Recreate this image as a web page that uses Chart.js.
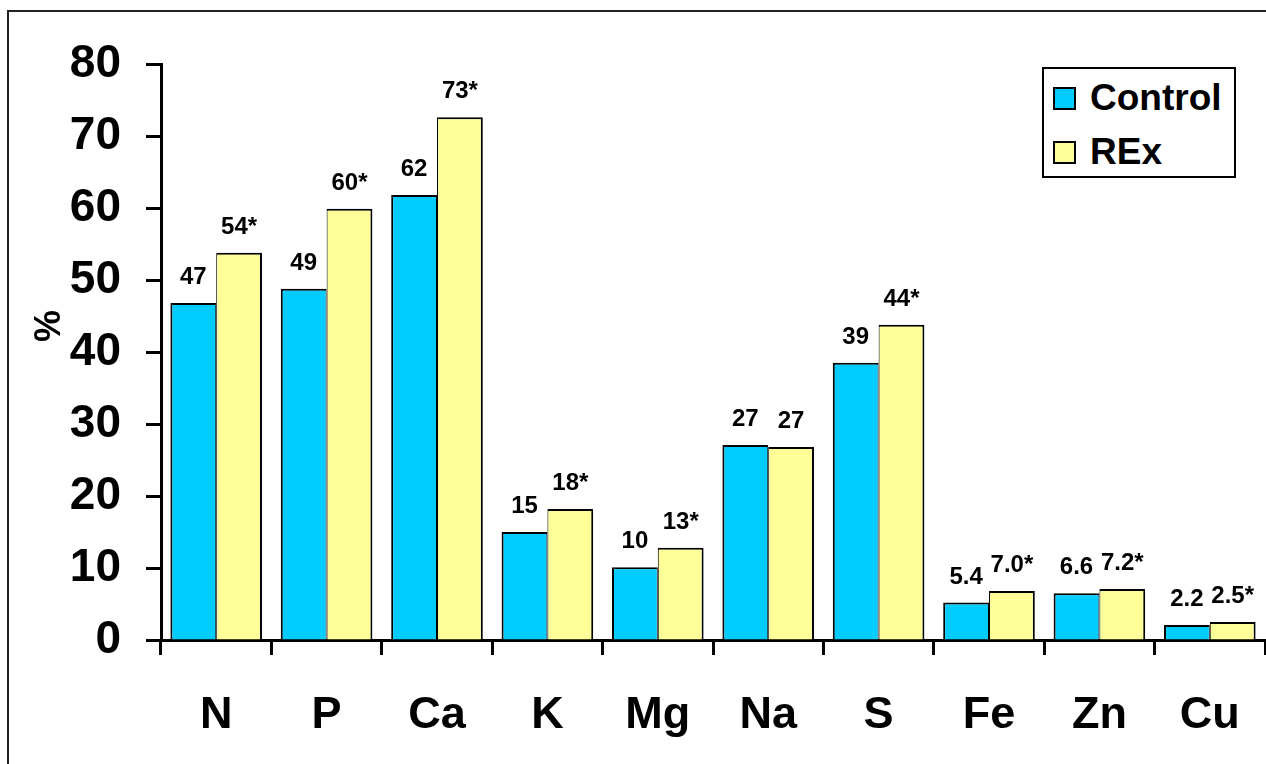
<!DOCTYPE html>
<html>
<head>
<meta charset="utf-8">
<script src="https://cdn.jsdelivr.net/npm/chart.js@4/dist/chart.umd.min.js"></script>
<style>
  html, body { margin: 0; padding: 0; background: #fff; overflow: hidden; }
  #frame {
    position: absolute; left: 7px; top: 10px; width: 1400px; height: 900px;
    border: 2px solid #222; z-index: 0;
  }
  #chart { position: absolute; left: 0; top: 0; z-index: 1; }
  #legend {
    position: absolute; left: 1042px; top: 67px; width: 190px; height: 105px;
    border: 2px solid #000; background: #fff; z-index: 2;
    font: bold 37px "Liberation Sans", Arial, sans-serif; color: #000;
    padding-top: 2px; box-sizing: content-box;
  }
  .legend-row { display: flex; align-items: center; height: 54px; }
  .legend-box {
    width: 19px; height: 19px; border: 2px solid #000;
    margin-left: 9px; margin-right: 14px;
  }
</style>
</head>
<body>
<div id="frame"></div>
<canvas id="chart" width="1266" height="764"></canvas>
<div id="legend"></div>
<script>
const CATEGORIES = ["N", "P", "Ca", "K", "Mg", "Na", "S", "Fe", "Zn", "Cu"];
const CONTROL = [46.8, 48.8, 61.8, 15.0, 10.1, 27.1, 38.5, 5.2, 6.5, 2.1];
const REX = [53.8, 59.9, 72.6, 18.2, 12.8, 26.8, 43.8, 6.8, 7.1, 2.5];
const CONTROL_LABELS = ["47", "49", "62", "15", "10", "27", "39", "5.4", "6.6", "2.2"];
const REX_LABELS = ["54*", "60*", "73*", "18*", "13*", "27", "44*", "7.0*", "7.2*", "2.5*"];
const Y_TICKS = [0, 10, 20, 30, 40, 50, 60, 70, 80];
const Y_TITLE = "%";

const COLORS = {
  black: "#000000",
  cyan: "#00CCFF",
  yellow: "#FFFF99",
};

const FONT = "'Liberation Sans', Arial, sans-serif";
Chart.defaults.font.family = FONT;
Chart.defaults.color = COLORS.black;

// value labels above bars
const barLabelsPlugin = {
  id: "barLabels",
  afterDatasetsDraw: (chart) => {
    const { ctx } = chart;
    const texts = [CONTROL_LABELS, REX_LABELS];
    ctx.save();
    ctx.font = "bold 24px " + FONT;
    ctx.fillStyle = COLORS.black;
    ctx.textAlign = "center";
    ctx.textBaseline = "alphabetic";
    chart.data.datasets.forEach((ds, i) => {
      chart.getDatasetMeta(i).data.forEach((bar, j) => {
        ctx.fillText(texts[i][j], bar.x, bar.y - 19);
      });
    });
    ctx.restore();
  },
};

// y axis title, sits a bit above the middle of the axis
const yTitlePlugin = {
  id: "yTitle",
  afterDraw: (chart) => {
    const { ctx, chartArea } = chart;
    const y = chartArea.top + (chartArea.bottom - chartArea.top) * 0.455;
    ctx.save();
    ctx.translate(50, y);
    ctx.rotate(-Math.PI / 2);
    ctx.font = "bold 36px " + FONT;
    ctx.fillStyle = COLORS.black;
    ctx.textAlign = "center";
    ctx.textBaseline = "middle";
    ctx.fillText(Y_TITLE, 0, 0);
    ctx.restore();
  },
};

const chart = new Chart(document.getElementById("chart"), {
  type: "bar",
  data: {
    labels: CATEGORIES,
    datasets: [
      {
        label: "Control",
        data: CONTROL,
        backgroundColor: COLORS.cyan,
        borderColor: COLORS.black,
        borderWidth: { top: 2, left: 2, right: 1, bottom: 0 },
        borderSkipped: "start",
      },
      {
        label: "REx",
        data: REX,
        backgroundColor: COLORS.yellow,
        borderColor: COLORS.black,
        borderWidth: { top: 2, left: 1, right: 2, bottom: 0 },
        borderSkipped: "start",
      },
    ],
  },
  options: {
    responsive: false,
    animation: false,
    categoryPercentage: 0.83,
    barPercentage: 1,
    layout: { padding: { top: 64, right: 1, bottom: 0, left: 0 } },
    scales: {
      x: {
        offset: true,
        grid: {
          offset: true,
          drawOnChartArea: false,
          drawTicks: true,
          tickLength: 15,
          tickWidth: 3,
          tickColor: COLORS.black,
        },
        border: { display: true, width: 3, color: COLORS.black },
        ticks: {
          padding: 34,
          font: { size: 45, weight: "bold" },
          color: COLORS.black,
          maxRotation: 0,
        },
        afterFit: (scale) => {
          scale.height = 124;
          scale.paddingLeft = 0;
          scale.paddingRight = 0;
        },
      },
      y: {
        min: 0,
        max: 80,
        afterBuildTicks: (scale) => {
          scale.ticks = Y_TICKS.map((v) => ({ value: v }));
        },
        grid: {
          drawOnChartArea: false,
          drawTicks: true,
          tickLength: 15,
          tickWidth: 3,
          tickColor: COLORS.black,
        },
        border: { display: true, width: 3, color: COLORS.black },
        ticks: {
          padding: 25,
          font: { size: 46, weight: "bold" },
          color: COLORS.black,
        },
        afterFit: (scale) => { scale.width = 161; },
      },
    },
    plugins: {
      legend: { display: false },
      tooltip: { enabled: false },
    },
  },
  plugins: [barLabelsPlugin, yTitlePlugin],
});

// html legend built from the datasets
const legend = document.getElementById("legend");
chart.data.datasets.forEach((ds) => {
  const row = document.createElement("div");
  row.className = "legend-row";
  const box = document.createElement("span");
  box.className = "legend-box";
  box.style.backgroundColor = ds.backgroundColor;
  const text = document.createElement("span");
  text.textContent = ds.label;
  row.appendChild(box);
  row.appendChild(text);
  legend.appendChild(row);
});
</script>
</body>
</html>
